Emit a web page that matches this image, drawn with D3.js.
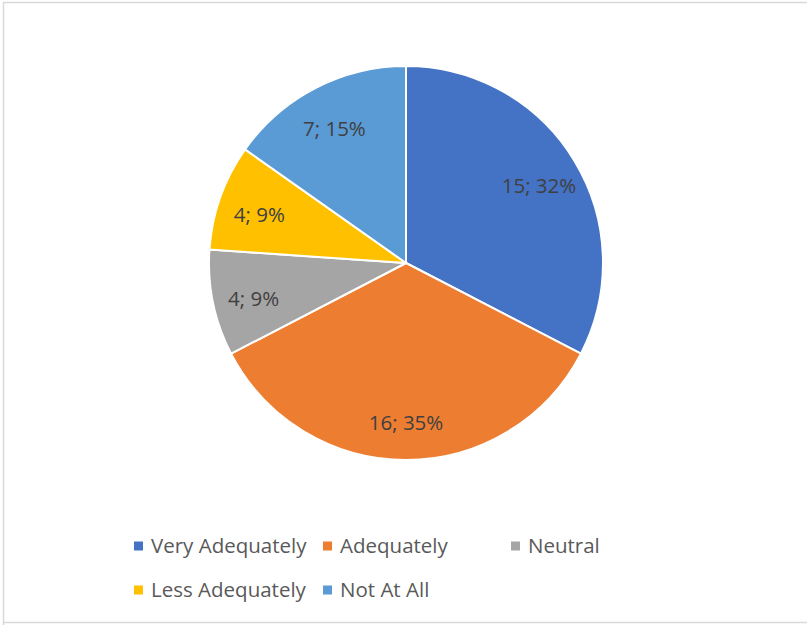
<!DOCTYPE html>
<html>
<head>
<meta charset="utf-8">
<script src="https://cdn.jsdelivr.net/npm/d3@7"></script>
<style>
  html, body { margin: 0; padding: 0; background: #fff; }
  svg { display: block; }
</style>
</head>
<body>
<svg id="chart" width="807" height="625"></svg>
<script>
const categories = ["Very Adequately", "Adequately", "Neutral", "Less Adequately", "Not At All"];
const values = [15, 16, 4, 4, 7];
const percentLabels = ["32%", "35%", "9%", "9%", "15%"];
const colors = ["#4472C4", "#ED7D31", "#A5A5A5", "#FFC000", "#5B9BD5"];

const svg = d3.select("#chart");
const font = "'Open Sans', 'Liberation Sans', Arial, sans-serif";

// chart border
svg.append("path")
  .attr("d", "M3.5,625 L3.5,2.5 L807,2.5")
  .attr("fill", "none").attr("stroke", "#d9d9d9").attr("stroke-width", 1.5);
svg.append("line")
  .attr("x1", 3.5).attr("x2", 807).attr("y1", 622.5).attr("y2", 622.5)
  .attr("stroke", "#d9d9d9").attr("stroke-width", 1.5);

const cx = 406, cy = 263, r = 197;
const data = categories.map((c, i) => ({ cat: c, value: values[i], pct: percentLabels[i], color: colors[i] }));

const pie = d3.pie().value(d => d.value).sort(null).startAngle(0).endAngle(2 * Math.PI);
const arcs = pie(data);
const arc = d3.arc().innerRadius(0).outerRadius(r);
const labelArc = d3.arc().innerRadius(r * 0.79).outerRadius(r * 0.79);

const g = svg.append("g").attr("transform", `translate(${cx},${cy})`);
g.selectAll("path.slice").data(arcs).enter().append("path")
  .attr("class", "slice")
  .attr("d", arc)
  .attr("fill", d => d.data.color)
  .attr("stroke", "#fff").attr("stroke-width", 2).attr("stroke-linejoin", "round");

g.selectAll("text.lbl").data(arcs).enter().append("text")
  .attr("class", "lbl")
  .attr("transform", d => { const c = labelArc.centroid(d); return `translate(${c[0]},${c[1] + 4})`; })
  .attr("text-anchor", "middle").attr("dy", "0.35em")
  .attr("font-family", font).attr("font-size", 20.5).attr("fill", "#404040")
  .text(d => `${d.data.value}; ${d.data.pct}`);

// legend
const legendX = d3.scaleOrdinal().domain(categories).range([134, 323, 511, 134, 323]);
const legendY = d3.scaleOrdinal().domain(categories).range([546, 546, 546, 590, 590]);
const lg = svg.append("g");
const items = lg.selectAll("g").data(data).enter().append("g")
  .attr("transform", d => `translate(${legendX(d.cat)},${legendY(d.cat)})`);
items.append("rect").attr("x", 0).attr("y", -4.5).attr("width", 9).attr("height", 9).attr("fill", d => d.color);
items.append("text").attr("x", 17).attr("y", 0).attr("dy", "0.35em")
  .attr("font-family", font).attr("font-size", 20.5).attr("fill", "#595959")
  .text(d => d.cat);
</script>
</body>
</html>
